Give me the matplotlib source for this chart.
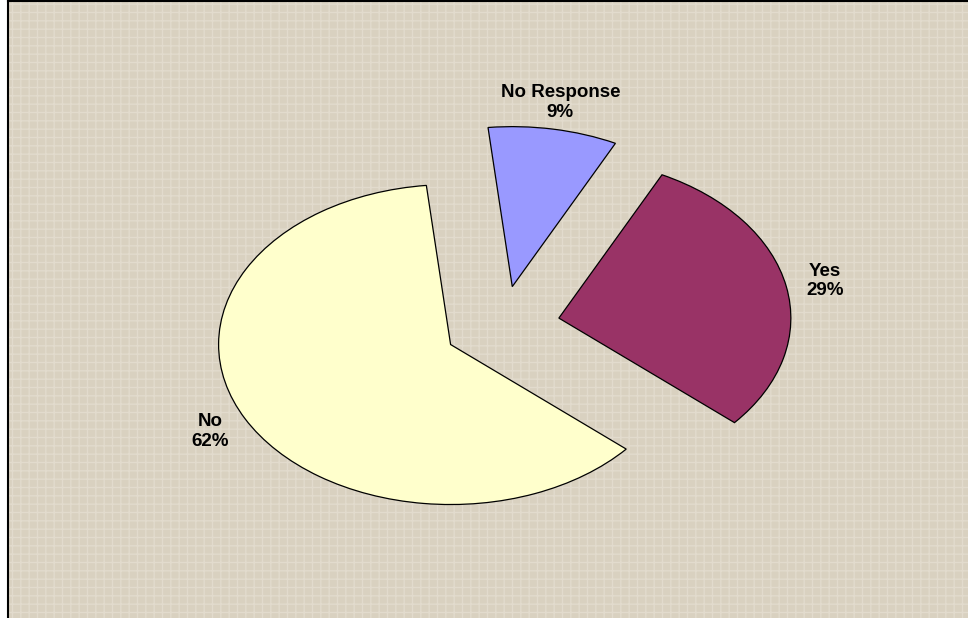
import matplotlib
matplotlib.use("Agg")
import matplotlib.pyplot as plt

# data
categories = ["No Response", "Yes", "No"]
percent = [9, 29, 62]
slice_colors = ["#9999FF", "#993366", "#FFFFCC"]

plt.rcParams["font.family"] = ["Liberation Sans", "DejaVu Sans"]

fig = plt.figure(figsize=(9.68, 6.18), dpi=100, facecolor="white")
ax = fig.add_axes([8 / 968, 0, 960 / 968, 617 / 618])
ax.set_facecolor("#D9D1C0")

labels = [f"{c}\n{p}%" for c, p in zip(categories, percent)]
wedges, texts = ax.pie(
    percent,
    labels=labels,
    colors=slice_colors,
    explode=[0.25, 0.25, 0.25],
    startangle=96,
    counterclock=False,
    labeldistance=1.17,
    frame=True,
    wedgeprops=dict(edgecolor="black", linewidth=0.9),
    textprops=dict(ha="center", va="center", ma="center",
                   fontweight="bold", fontsize=13.5, color="black"),
)

# light woven texture on the plot area
ax.patch.set_hatch("++")
ax.patch.set_edgecolor("#E2DBCD")
ax.patch.set_linewidth(0)

ax.set_aspect("auto")
ax.set_xlim(-494 / 232, 466 / 232)
ax.set_ylim(-292 / 160, 325 / 160)
ax.set_xticks([])
ax.set_yticks([])
for side in ["right", "bottom"]:
    ax.spines[side].set_visible(False)
for side in ["left", "top"]:
    ax.spines[side].set_color("black")
    ax.spines[side].set_linewidth(1.5)

fig.savefig("out.png", dpi=100)
